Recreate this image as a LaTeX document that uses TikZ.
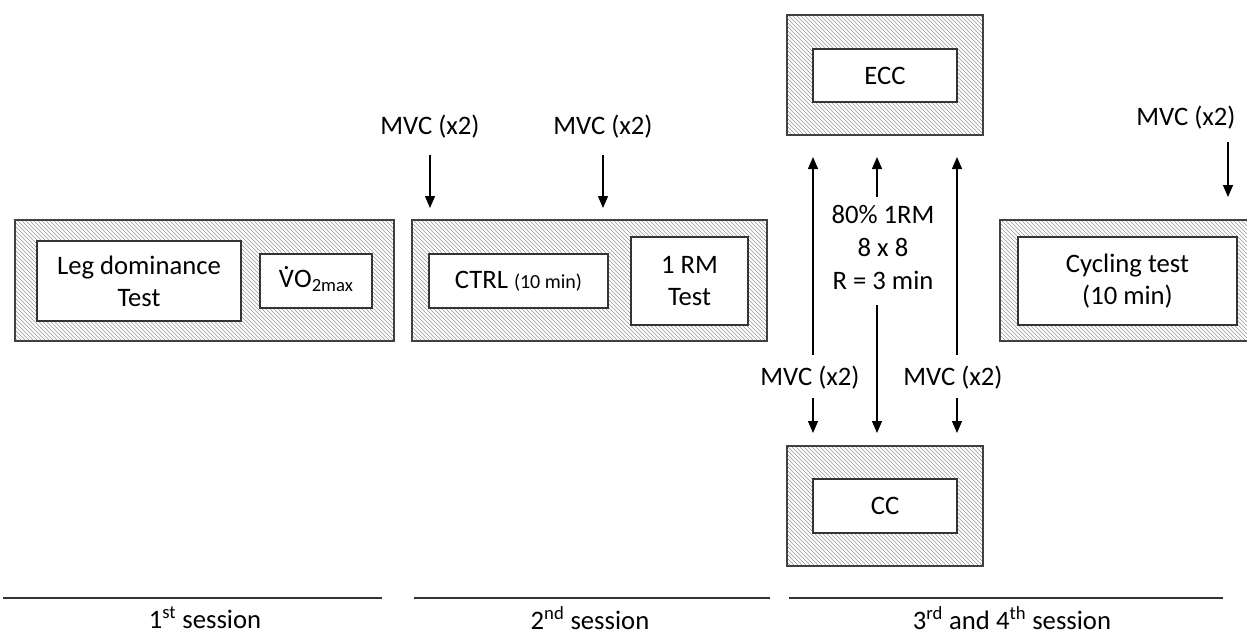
\documentclass[tikz,border=0pt]{standalone}
\usepackage{fontspec}
\setmainfont{Carlito}
\usetikzlibrary{patterns,arrows.meta}
\newcommand\myVdot{\leavevmode\hbox{\ooalign{V\cr\hidewidth\raisebox{0.66em}{.}\hidewidth\cr}}}
\begin{document}
\begin{tikzpicture}[x=0.75pt,y=-0.75pt,
  outerbox/.style={draw=black!75, line width=1pt, pattern=north west lines, pattern color=black!40, inner sep=0pt},
  innerbox/.style={draw=black!80, line width=1pt, fill=white, inner sep=0pt, align=center, font=\fontsize{20}{24}\selectfont},
  lbl/.style={inner sep=0pt, align=center, font=\fontsize{20}{24}\selectfont},
  arr/.style={line width=1pt, -{Triangle[length=9pt,width=7.5pt]}},
  sess/.style={line width=1pt, draw=black!80}]
\useasboundingbox (0,0) rectangle (1247,635);
\clip (0,0) rectangle (1247,635);

% session 1
\node[outerbox, minimum width=284.25pt, minimum height=90.75pt] (s1) at (204.5,280.5) {};
\node[innerbox, minimum width=153pt, minimum height=60pt] (leg) at (139,281) {Leg dominance\\Test};
\node[innerbox, minimum width=84pt, minimum height=40.5pt] (vo2) at (316,281) {\myVdot O{\fontsize{14}{14}\selectfont\raisebox{-0.25em}{2max}}};

% session 2
\node[outerbox, minimum width=266.25pt, minimum height=90.75pt] (s2) at (589.5,280.5) {};
\node[innerbox, minimum width=134.25pt, minimum height=40.5pt] (ctrl) at (518.5,281) {CTRL {\fontsize{15}{18}\selectfont(10 min)}};
\node[innerbox, minimum width=87.75pt, minimum height=66pt] (rm) at (689.5,281) {1 RM\\Test};

% ECC / CC
\node[outerbox, minimum width=147pt, minimum height=90pt] (eccout) at (885,75) {};
\node[innerbox, minimum width=108pt, minimum height=39.75pt] (ecc) at (885,75.5) {ECC};
\node[outerbox, minimum width=147pt, minimum height=90pt] (ccout) at (885,506) {};
\node[innerbox, minimum width=108pt, minimum height=40.5pt] (cc) at (885,506) {CC};

% cycling
\node[outerbox, minimum width=196.5pt, minimum height=90.75pt] (s4) at (1131,280.5) {};
\node[innerbox, minimum width=164.25pt, minimum height=66pt] (cyc) at (1127.5,281) {Cycling test\\(10 min)};

% labels
\node[lbl] (m1) at (430,127) {MVC (x2)};
\node[lbl] (m2) at (603,127) {MVC (x2)};
\node[lbl] (m3) at (1186,118) {MVC (x2)};
\node[lbl] (m4) at (810,378) {MVC (x2)};
\node[lbl] (m5) at (953,378) {MVC (x2)};
\node[lbl, font=\fontsize{20}{24.75}\selectfont] (prot) at (883,247) {80\% 1RM\\8 x 8\\R = 3 min};

% arrow coordinates
\coordinate (a1s) at (430,155); \coordinate (a1e) at (430,208);
\coordinate (a2s) at (603,155); \coordinate (a2e) at (603,208);
\coordinate (a3s) at (1228,142); \coordinate (a3e) at (1228,197);
\coordinate (uLs) at (813,355); \coordinate (uLe) at (813,157);
\coordinate (uMs) at (877,197); \coordinate (uMe) at (877,157);
\coordinate (uRs) at (957,355); \coordinate (uRe) at (957,157);
\coordinate (dLs) at (813,398); \coordinate (dLe) at (813,433);
\coordinate (dMs) at (877,305); \coordinate (dMe) at (877,433);
\coordinate (dRs) at (957,398); \coordinate (dRe) at (957,433);

\draw[arr] (a1s) -- (a1e);
\draw[arr] (a2s) -- (a2e);
\draw[arr] (a3s) -- (a3e);
\draw[arr] (uLs) -- (uLe);
\draw[arr] (uMs) -- (uMe);
\draw[arr] (uRs) -- (uRe);
\draw[arr] (dLs) -- (dLe);
\draw[arr] (dMs) -- (dMe);
\draw[arr] (dRs) -- (dRe);

% sessions
\draw[sess] (3,598) -- (382,598);
\draw[sess] (414,598) -- (770,598);
\draw[sess] (789,598) -- (1223,598);
\node[lbl] (t1) at (205,618) {1\textsuperscript{st} session};
\node[lbl] (t2) at (590,618) {2\textsuperscript{nd} session};
\node[lbl] (t3) at (1012,618) {3\textsuperscript{rd} and 4\textsuperscript{th} session};
\end{tikzpicture}
\end{document}
